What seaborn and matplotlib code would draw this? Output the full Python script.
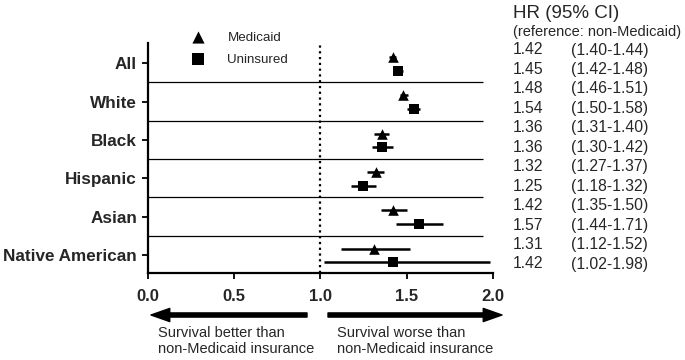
import matplotlib
matplotlib.use("Agg")
import matplotlib.pyplot as plt
import seaborn as sns
import pandas as pd
import numpy as np

# ---- data ----
categories = ["All", "White", "Black", "Hispanic", "Asian", "Native American"]
medicaid_hr = [1.42, 1.48, 1.36, 1.32, 1.42, 1.31]
medicaid_lo = [1.40, 1.46, 1.31, 1.27, 1.35, 1.12]
medicaid_hi = [1.44, 1.51, 1.40, 1.37, 1.50, 1.52]
uninsured_hr = [1.45, 1.54, 1.36, 1.25, 1.57, 1.42]
uninsured_lo = [1.42, 1.50, 1.30, 1.18, 1.44, 1.02]
uninsured_hi = [1.48, 1.58, 1.42, 1.32, 1.71, 1.98]
x_ticks = [0.0, 0.5, 1.0, 1.5, 2.0]
series_names = ["Medicaid", "Uninsured"]
header = "HR (95% CI)"
subheader = "(reference: non-Medicaid)"
left_note = "Survival better than\nnon-Medicaid insurance"
right_note = "Survival worse than\nnon-Medicaid insurance"

sns.set_style("ticks")
plt.rcParams["font.family"] = ["Liberation Sans", "DejaVu Sans"]

pos = np.arange(len(categories))
df_m = pd.DataFrame({"hr": medicaid_hr, "lo": medicaid_lo, "hi": medicaid_hi,
                     "y": pos - 0.165, "group": series_names[0]})
df_u = pd.DataFrame({"hr": uninsured_hr, "lo": uninsured_lo, "hi": uninsured_hi,
                     "y": pos + 0.195, "group": series_names[1]})

W, H = 685, 360
fig = plt.figure(figsize=(W / 100, H / 100), dpi=100)
ax = fig.add_axes([147.5 / W, 1 - 273.3 / H, (493 - 147.5) / W, (273.3 - 43.3) / H])

# separators
ax.hlines(pos[:-1] + 0.5, 0, 1.94, color="black", lw=0.9, zorder=1)
# reference line
ax.axvline(1.0, color="black", lw=1.6, ls=(0, (1, 1.6)), zorder=1)

# CIs
for d in (df_m, df_u):
    ax.hlines(d["y"], d["lo"], d["hi"], color="black", lw=1.8, zorder=2)

sns.scatterplot(data=df_m, x="hr", y="y", marker="^", s=58, color="black",
                edgecolor="black", linewidth=0, ax=ax, zorder=3, label=series_names[0])
sns.scatterplot(data=df_u, x="hr", y="y", marker="s", s=50, color="black",
                edgecolor="black", linewidth=0, ax=ax, zorder=3, label=series_names[1])

ax.set_xlim(0, 2)
ax.set_ylim(5.48, -0.52)
ax.set_xticks(x_ticks)
ax.set_xticklabels([f"{v:.1f}" for v in x_ticks], fontsize=12, fontweight="bold")
ax.set_yticks(pos)
ax.set_yticklabels(categories, fontsize=12.3, fontweight="bold")
ax.set_xlabel("")
ax.set_ylabel("")
ax.tick_params(axis="both", length=4.5, width=1.3, color="black")
ax.tick_params(axis="y", pad=3)
ax.tick_params(axis="x", pad=7)
sns.despine(ax=ax)
for s in ("left", "bottom"):
    ax.spines[s].set_linewidth(1.6)
    ax.spines[s].set_color("black")

handles, labels = ax.get_legend_handles_labels()
ax.legend(handles, labels, loc="upper left", bbox_to_anchor=(191.5 / W, 1 - 31.5 / H),
          bbox_transform=fig.transFigure, frameon=False, fontsize=9.6,
          handlelength=1.0, handletextpad=1.7, labelspacing=0.72,
          borderpad=0, borderaxespad=0, markerscale=1.15)

# table on the right
fig.text(513 / W, 1 - 13.5 / H, header, fontsize=13.5, va="center", ha="left")
fig.text(513 / W, 1 - 32 / H, subheader, fontsize=10.5, va="center", ha="left")
rows = []
for i in range(len(categories)):
    rows.append((medicaid_hr[i], medicaid_lo[i], medicaid_hi[i]))
    rows.append((uninsured_hr[i], uninsured_lo[i], uninsured_hi[i]))
y0, dy = 50, (264 - 50) / (len(rows) - 1)
for k, (hr, lo, hi) in enumerate(rows):
    yy = 1 - (y0 + k * dy) / H
    fig.text(513 / W, yy, f"{hr:.2f}", fontsize=11.3, va="center", ha="left")
    fig.text(571.5 / W, yy, f"({lo:.2f}-{hi:.2f})", fontsize=11.3, va="center", ha="left")

# arrows
arrow_style = "simple,head_length=1.35,head_width=0.95,tail_width=0.3"
ax.annotate("", xy=(151, H - 315), xytext=(307, H - 315), xycoords="figure pixels",
            textcoords="figure pixels",
            arrowprops=dict(arrowstyle=arrow_style, mutation_scale=10, color="black",
                            shrinkA=0, shrinkB=0), annotation_clip=False)
ax.annotate("", xy=(502, H - 315), xytext=(328, H - 315), xycoords="figure pixels",
            textcoords="figure pixels",
            arrowprops=dict(arrowstyle=arrow_style, mutation_scale=10, color="black",
                            shrinkA=0, shrinkB=0), annotation_clip=False)
fig.text(158 / W, 1 - 341 / H, left_note, fontsize=10.5, va="center", ha="left", linespacing=1.2)
fig.text(337 / W, 1 - 341 / H, right_note, fontsize=10.5, va="center", ha="left", linespacing=1.2)

fig.savefig("out.png", dpi=100)
